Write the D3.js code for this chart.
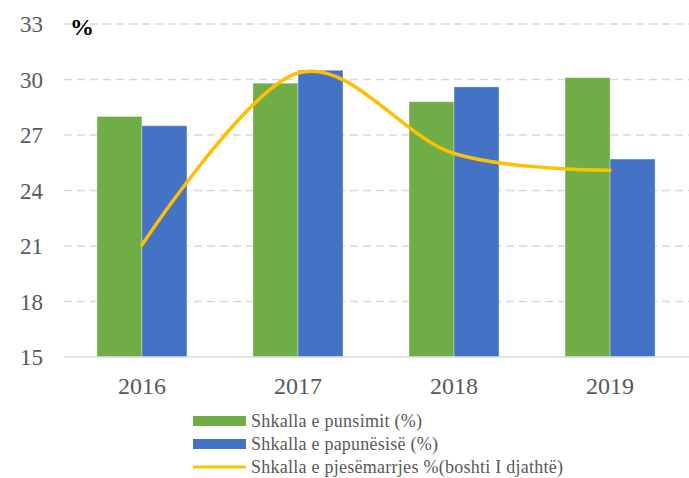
<!DOCTYPE html>
<html>
<head>
<meta charset="utf-8">
<script src="https://cdn.jsdelivr.net/npm/d3@7"></script>
</head>
<body style="margin:0; background:#fff">
<div id="chart"></div>
<script>
// data
let years = ["2016", "2017", "2018", "2019"]
let punsimi = [28.0, 29.8, 28.8, 30.1]
let papunesia = [27.5, 30.5, 29.6, 25.7]
let pjesemarrja = [21.05, 30.35, 26.0, 25.1]
let yTicks = [15, 18, 21, 24, 27, 30, 33]
let seriesNames = ["Shkalla e punsimit (%)", "Shkalla e papunësisë (%)", "Shkalla e pjesëmarrjes %(boshti I djathtë)"]

let width = 689
let height = 478
let margin = { top: 24, right: 1, bottom: 121, left: 64 }
let font = "Liberation Serif"

let svg = d3.select("#chart")
    .append("svg")
    .attr("width", width)
    .attr("height", height)

let x = d3.scaleBand()
    .domain(years)
    .range([margin.left, width - margin.right])
    .paddingInner(0.423)
    .paddingOuter(0.211)

let y = d3.scaleLinear()
    .domain([15, 33])
    .range([height - margin.bottom, margin.top])

// gridlines
svg.selectAll(".grid")
    .data(yTicks.filter(d => d > 15))
    .enter()
    .append("line")
    .attr("x1", margin.left)
    .attr("x2", width)
    .attr("y1", d => y(d))
    .attr("y2", d => y(d))
    .attr("stroke", "#d9d9d9")
    .attr("stroke-width", 1.5)
    .attr("stroke-dasharray", "8,5")

// y labels
svg.selectAll(".ylab")
    .data(yTicks)
    .enter()
    .append("text")
    .attr("x", 43)
    .attr("y", d => y(d))
    .attr("dy", "0.35em")
    .attr("text-anchor", "end")
    .attr("fill", "#595959")
    .attr("font-family", font)
    .attr("font-size", 23)
    .text(d => d)

svg.append("text")
    .attr("x", 70)
    .attr("y", 35)
    .attr("fill", "#000")
    .attr("font-family", font)
    .attr("font-size", 24)
    .attr("font-weight", "bold")
    .text("%")

let bw = 45
let colors = ["#70ad47", "#4472c4", "#ffc000"]

// bars
let groups = [punsimi, papunesia]
groups.forEach((vals, i) => {
    svg.selectAll(".bar" + i)
        .data(vals)
        .enter()
        .append("rect")
        .attr("x", (d, j) => x(years[j]) + x.bandwidth() / 2 - bw + i * bw)
        .attr("y", d => y(d))
        .attr("width", bw)
        .attr("height", d => y(15) - y(d))
        .attr("fill", colors[i])
        .attr("stroke", "#ffffff")
        .attr("stroke-opacity", 0.35)
        .attr("stroke-width", 1)
})

// axis line
svg.append("line")
    .attr("x1", margin.left)
    .attr("x2", width)
    .attr("y1", y(15))
    .attr("y2", y(15))
    .attr("stroke", "#d9d9d9")
    .attr("stroke-width", 1.5)

// x labels
svg.selectAll(".xlab")
    .data(years)
    .enter()
    .append("text")
    .attr("x", d => x(d) + x.bandwidth() / 2)
    .attr("y", 394)
    .attr("text-anchor", "middle")
    .attr("fill", "#595959")
    .attr("font-family", font)
    .attr("font-size", 24)
    .text(d => d)

// smoothed line
let line = d3.line()
    .x((d, i) => x(years[i]) + x.bandwidth() / 2)
    .y(d => y(d))
    .curve(d3.curveCardinal.tension(0))

svg.append("path")
    .datum(pjesemarrja)
    .attr("d", line)
    .attr("fill", "none")
    .attr("stroke", colors[2])
    .attr("stroke-width", 3.5)
    .attr("stroke-linecap", "round")

// legend
let legendY = [421, 444, 467]
let legendW = [171, 187, 312]
seriesNames.forEach((name, i) => {
    if (i < 2) {
        svg.append("rect")
            .attr("x", 193)
            .attr("y", legendY[i] - 5)
            .attr("width", 53)
            .attr("height", 10)
            .attr("fill", colors[i])
    } else {
        svg.append("line")
            .attr("x1", 194)
            .attr("x2", 245)
            .attr("y1", legendY[i])
            .attr("y2", legendY[i])
            .attr("stroke", colors[i])
            .attr("stroke-width", 3)
            .attr("stroke-linecap", "round")
    }
    svg.append("text")
        .attr("x", 251)
        .attr("y", legendY[i])
        .attr("dy", "0.35em")
        .attr("fill", "#595959")
        .attr("font-family", font)
        .attr("font-size", 18)
        .attr("textLength", legendW[i])
        .attr("lengthAdjust", "spacing")
        .text(name)
})
</script>
</body>
</html>
